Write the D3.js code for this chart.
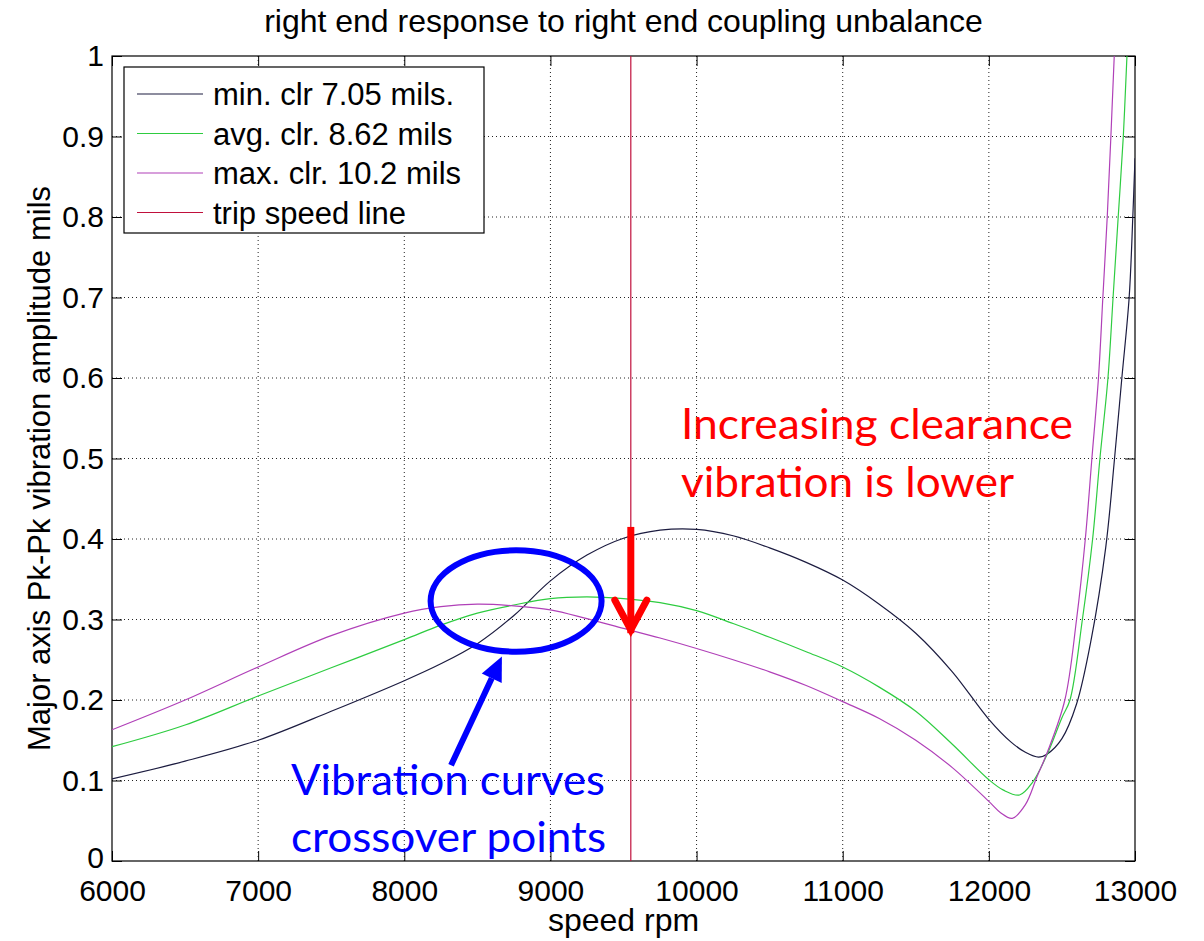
<!DOCTYPE html>
<html>
<head>
<meta charset="utf-8">
<script src="https://cdnjs.cloudflare.com/ajax/libs/d3/7.8.5/d3.min.js"></script>
<style>
  body { margin: 0; background: #fff; }
  text { font-family: "Liberation Sans", Arial, sans-serif; fill: #000; }
  .note { font-family: Lato, "Open Sans", sans-serif; }
</style>
</head>
<body>
<div id="chart"></div>
<script>
// curves (speed rpm / amplitude mils)
var minSpeed = [6000,6500,7000,7500,8000,8250,8500,8750,9000,9250,9500,9750,10000,10250,10500,10750,11000,11250,11500,11750,12000,12150,12250,12340,12400,12500,12600,12700,12800,12860,12910,12960,12985,13000];
var minAmp   = [0.102,0.124,0.150,0.186,0.224,0.245,0.270,0.305,0.348,0.380,0.401,0.411,0.412,0.404,0.389,0.371,0.349,0.319,0.283,0.235,0.176,0.148,0.135,0.129,0.133,0.152,0.195,0.275,0.390,0.500,0.600,0.700,0.800,0.873];

var avgSpeed = [6000,6500,7000,7500,8000,8250,8500,8750,9000,9250,9500,9750,10000,10250,10500,10750,11000,11250,11500,11750,12000,12100,12210,12300,12400,12500,12555,12640,12710,12760,12815,12850,12885,12920,12945,12970];
var avgAmp   = [0.142,0.169,0.205,0.240,0.275,0.293,0.308,0.318,0.326,0.328,0.326,0.321,0.311,0.295,0.278,0.260,0.241,0.216,0.186,0.145,0.101,0.088,0.082,0.098,0.133,0.178,0.200,0.300,0.400,0.500,0.600,0.700,0.800,0.900,1.000,1.080];

var maxSpeed = [6000,6500,7000,7500,8000,8250,8500,8750,9000,9250,9500,9750,10000,10250,10500,10750,11000,11250,11500,11750,12000,12080,12160,12250,12330,12400,12520,12600,12660,12705,12750,12780,12810,12835,12858,12880];
var maxAmp   = [0.163,0.200,0.241,0.280,0.308,0.316,0.319,0.317,0.312,0.301,0.289,0.277,0.264,0.250,0.235,0.218,0.198,0.177,0.150,0.116,0.074,0.060,0.053,0.070,0.105,0.135,0.200,0.300,0.400,0.500,0.600,0.700,0.800,0.900,1.000,1.080];

var tripSpeed = 9550;

var seriesNames  = ["min. clr 7.05 mils.", "avg. clr. 8.62 mils", "max. clr. 10.2 mils", "trip speed line"];
var seriesColors = ["#1c1c40", "#2ecc40", "#b040b8", "#c0103c"];

var xTicks = [6000,7000,8000,9000,10000,11000,12000,13000];
var yTicks = [0,0.1,0.2,0.3,0.4,0.5,0.6,0.7,0.8,0.9,1];

var W = 1204, H = 941;
var margin = {top: 56, right: 69, bottom: 80, left: 112};
var width = W - margin.left - margin.right,
    height = H - margin.top - margin.bottom;

var svg = d3.select("#chart").append("svg")
    .attr("width", W).attr("height", H);

var g = svg.append("g").attr("transform", "translate(" + margin.left + "," + margin.top + ")");

var x = d3.scaleLinear().domain([6000, 13000]).range([0, width]);
var y = d3.scaleLinear().domain([0, 1]).range([height, 0]);

// dotted grid
g.append("g").selectAll("line").data(xTicks.slice(1, -1)).enter().append("line")
    .attr("x1", function(d) { return x(d); }).attr("x2", function(d) { return x(d); })
    .attr("y1", 0).attr("y2", height)
    .style("stroke", "#222").style("stroke-width", 1).style("stroke-dasharray", "1,3");
g.append("g").selectAll("line").data(yTicks.slice(1, -1)).enter().append("line")
    .attr("y1", function(d) { return y(d); }).attr("y2", function(d) { return y(d); })
    .attr("x1", 0).attr("x2", width)
    .style("stroke", "#222").style("stroke-width", 1).style("stroke-dasharray", "1,3");

// axes, ticks pointing inwards like matlab
var xAxis = d3.axisBottom(x).tickValues(xTicks).tickSize(-10).tickPadding(19).tickFormat(d3.format("d"));
var yAxis = d3.axisLeft(y).tickValues(yTicks).tickSize(-10).tickPadding(8).tickFormat(function(d) { return d3.format("")(d); });

var gx = g.append("g").attr("transform", "translate(0," + height + ")").call(xAxis);
var gy = g.append("g").call(yAxis);
g.append("g").call(d3.axisTop(x).tickValues(xTicks).tickSize(-10).tickFormat(""));
g.append("g").attr("transform", "translate(" + width + ",0)").call(d3.axisRight(y).tickValues(yTicks).tickSize(-10).tickFormat(""));

svg.selectAll(".domain").style("stroke", "none");
svg.selectAll(".tick line").style("stroke", "#000");
gx.selectAll("text").style("font-size", "30px").attr("dy", "0.71em");
gy.selectAll("text").style("font-size", "30px");
// "0" sits right on the corner, lift it a touch so it clears 6000
gy.selectAll(".tick").filter(function(d) { return d === 0; }).select("text").attr("dy", "0.2em");

g.append("rect").attr("width", width).attr("height", height)
    .style("fill", "none").style("stroke", "#000").style("stroke-width", 1.2);

// curves
g.append("clipPath").attr("id", "clip").append("rect").attr("width", width).attr("height", height);

var line = d3.line()
    .x(function(d) { return x(d[0]); })
    .y(function(d) { return y(d[1]); })
    .curve(d3.curveCatmullRom.alpha(0.5));

var curves = [d3.zip(minSpeed, minAmp), d3.zip(avgSpeed, avgAmp), d3.zip(maxSpeed, maxAmp)];
g.append("g").attr("clip-path", "url(#clip)").selectAll("path").data(curves).enter().append("path")
    .attr("d", line)
    .style("fill", "none")
    .style("stroke", function(d, i) { return seriesColors[i]; })
    .style("stroke-width", 1.2);

g.append("line")
    .attr("x1", x(tripSpeed)).attr("x2", x(tripSpeed))
    .attr("y1", y(0)).attr("y2", y(1))
    .style("stroke", seriesColors[3]).style("stroke-width", 1.2);

// legend
var leg = g.append("g").attr("transform", "translate(12,11)");
leg.append("rect").attr("width", 360).attr("height", 166)
    .style("fill", "#fff").style("stroke", "#000").style("stroke-width", 1.2);
var item = leg.selectAll(".item").data(seriesNames).enter().append("g")
    .attr("transform", function(d, i) { return "translate(0," + (27 + i * 39.5) + ")"; });
item.append("line").attr("x1", 13).attr("x2", 79)
    .style("stroke", function(d, i) { return seriesColors[i]; }).style("stroke-width", 1.2);
item.append("text").attr("x", 89).attr("dy", "0.36em").style("font-size", "31px").text(function(d) { return d; });

// titles
svg.append("text").attr("x", margin.left + width / 2).attr("y", 32)
    .attr("text-anchor", "middle").style("font-size", "32px")
    .text("right end response to right end coupling unbalance");
svg.append("text").attr("x", margin.left + width / 2).attr("y", 931)
    .attr("text-anchor", "middle").style("font-size", "32px").text("speed rpm");
svg.append("text").attr("transform", "translate(50," + (margin.top + height / 2 + 10) + ") rotate(-90)")
    .attr("text-anchor", "middle").style("font-size", "31px")
    .text("Major axis Pk-Pk vibration amplitude mils");

// annotations
var red = "#ff0000", blue = "#0000ff";
var ann = g.append("g");

ann.append("line")
    .attr("x1", x(tripSpeed)).attr("x2", x(tripSpeed))
    .attr("y1", y(0.415)).attr("y2", y(0.283))
    .style("stroke", red).style("stroke-width", 7);
ann.append("polyline")
    .attr("points", [[x(tripSpeed) - 16, y(0.324)], [x(tripSpeed), y(0.287)], [x(tripSpeed) + 16, y(0.324)]].join(" "))
    .style("fill", "none").style("stroke", red).style("stroke-width", 7)
    .style("stroke-linecap", "round").style("stroke-linejoin", "miter");

ann.append("ellipse")
    .attr("cx", x(8765)).attr("cy", y(0.323))
    .attr("rx", x(8765) - x(8180)).attr("ry", y(0.26) - y(0.323))
    .style("fill", "none").style("stroke", blue).style("stroke-width", 6);

var a0 = [x(8320), y(0.119)], a1 = [x(8668), y(0.254)];
var ang = Math.atan2(a1[1] - a0[1], a1[0] - a0[0]);
var hl = 24, hw = 11;
var bx = a1[0] - hl * Math.cos(ang), by = a1[1] - hl * Math.sin(ang);
ann.append("line").attr("x1", a0[0]).attr("y1", a0[1]).attr("x2", bx).attr("y2", by)
    .style("stroke", blue).style("stroke-width", 6);
ann.append("polygon")
    .attr("points", [a1, [bx + hw * Math.sin(ang), by - hw * Math.cos(ang)], [bx - hw * Math.sin(ang), by + hw * Math.cos(ang)]].join(" "))
    .style("fill", blue);

var redLines = ["Increasing clearance", "vibration is lower"];
var redWidths = [392, 333];
ann.selectAll(".rnote").data(redLines).enter().append("text").attr("class", "note")
    .attr("x", 569).attr("y", function(d, i) { return 383 + i * 58; })
    .attr("textLength", function(d, i) { return redWidths[i]; })
    .attr("lengthAdjust", "spacingAndGlyphs")
    .style("font-size", "42px").style("fill", red).text(function(d) { return d; });

var blueLines = ["Vibration curves", "crossover points"];
var blueWidths = [314, 315];
ann.selectAll(".bnote").data(blueLines).enter().append("text").attr("class", "note")
    .attr("x", 179).attr("y", function(d, i) { return 739 + i * 57; })
    .attr("textLength", function(d, i) { return blueWidths[i]; })
    .attr("lengthAdjust", "spacingAndGlyphs")
    .style("font-size", "43px").style("fill", blue).text(function(d) { return d; });
</script>
</body>
</html>
